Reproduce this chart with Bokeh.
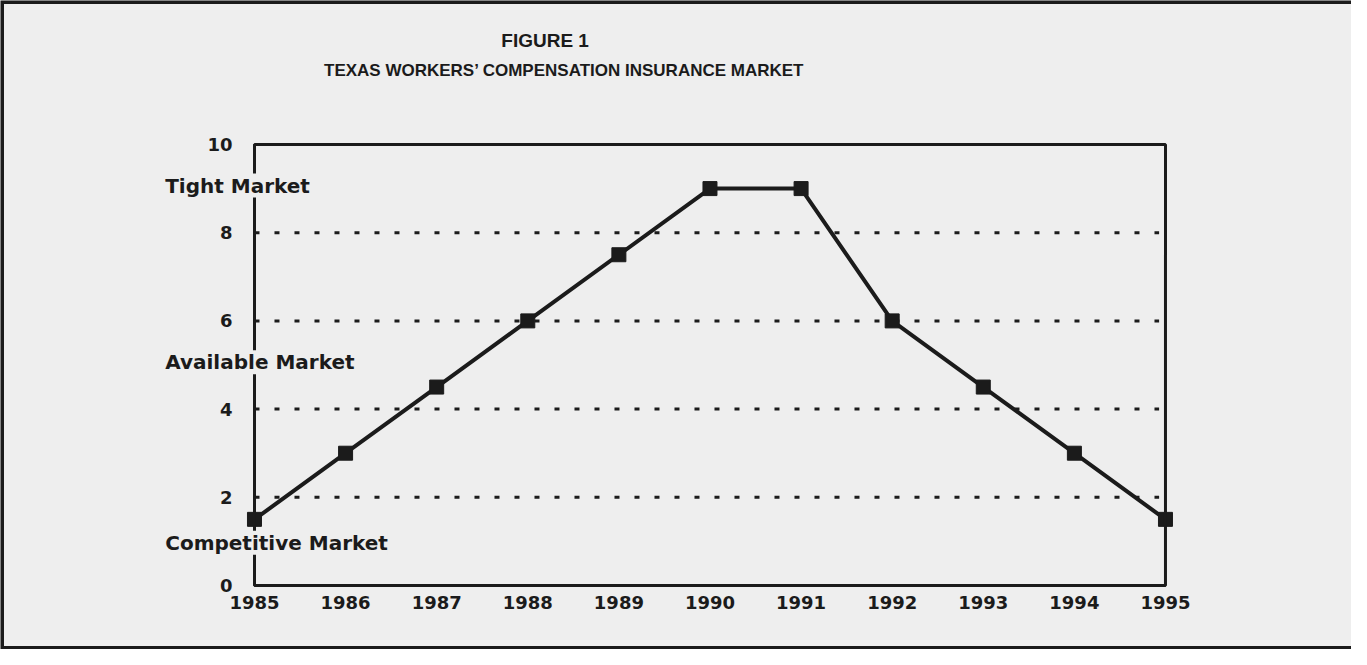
from bokeh.plotting import figure
from bokeh.models import Range1d, Label, FixedTicker, BoxAnnotation, LinearAxis
from bokeh.embed import file_html
from bokeh.resources import INLINE

years = [1985, 1986, 1987, 1988, 1989, 1990, 1991, 1992, 1993, 1994, 1995]
market_index = [1.5, 3.0, 4.5, 6.0, 7.5, 9.0, 9.0, 6.0, 4.5, 3.0, 1.5]
y_ticks = [0, 2, 4, 6, 8, 10]
dotted_levels = [2, 4, 6, 8]
market_labels = ["Tight Market", "Available Market", "Competitive Market"]
market_label_y = [9.07, 5.06, 0.97]
title_lines = ["FIGURE 1", "TEXAS WORKERS\u2019 COMPENSATION INSURANCE MARKET"]

BG = "#eeeeee"
INK = "#1b1b1b"
FONT = "DejaVu Sans"
TFONT = "Liberation Sans"

x0, x1 = years[0], years[-1]
y0, y1 = y_ticks[0], y_ticks[-1]

xr = Range1d(1982.212, 1997.042)
p = figure(width=1351, height=649, output_backend="svg", toolbar_location=None,
           x_range=xr, y_range=Range1d(-1.451, 13.265),
           x_axis_location=None, y_axis_location=None,
           min_border=0)
p.background_fill_color = BG
p.border_fill_color = BG
p.outline_line_color = None
p.xgrid.visible = False
p.ygrid.visible = False

xaxis = LinearAxis(fixed_location=y0, bounds=(x0, x1),
                   ticker=FixedTicker(ticks=years), major_label_standoff=10)
yaxis = LinearAxis(fixed_location=x0, bounds=(y0, y1),
                   ticker=FixedTicker(ticks=y_ticks), major_label_standoff=22)
for ax in (xaxis, yaxis):
    ax.axis_line_color = INK
    ax.axis_line_width = 3
    ax.major_tick_line_color = None
    ax.minor_tick_line_color = None
    ax.major_tick_in = 0
    ax.major_tick_out = 0
    ax.major_label_text_font = FONT
    ax.major_label_text_font_style = "bold"
    ax.major_label_text_font_size = "18px"
    ax.major_label_text_color = INK
p.add_layout(xaxis, "below")
p.add_layout(yaxis, "left")

# outer border of the scanned panel (left, top, bottom sides visible)
p.add_layout(BoxAnnotation(right=xr.end + 1, fill_alpha=0, line_color=INK,
                           line_alpha=1.0, line_width=7))
# chart frame (top and right sides; left/bottom drawn by axes)
p.add_layout(BoxAnnotation(left=x0, right=x1, bottom=y0, top=y1,
                           fill_alpha=0, line_color=INK, line_alpha=1.0,
                           line_width=3))

p.segment(x0=[x0] * len(dotted_levels), x1=[x1 - 0.07] * len(dotted_levels),
          y0=dotted_levels, y1=dotted_levels,
          line_color=INK, line_width=3, line_dash="5 15")

p.line(years, market_index, line_color=INK, line_width=4)
p.scatter(years, market_index, marker="square", size=14,
          fill_color=INK, line_color=INK)

for txt, yv in zip(market_labels, market_label_y):
    p.add_layout(Label(x=1984.02, y=yv, text=txt, text_font=FONT,
                       text_font_style="bold", text_font_size="20px",
                       text_color=INK, text_baseline="middle",
                       background_fill_color=BG, background_fill_alpha=1.0))

p.add_layout(Label(x=1988.19, y=12.36, text=title_lines[0],
                   text_font=TFONT, text_font_style="bold",
                   text_font_size="19px", text_color=INK,
                   text_align="center", text_baseline="middle"))
p.add_layout(Label(x=1988.40, y=11.68, text=title_lines[1],
                   text_font=TFONT, text_font_style="bold",
                   text_font_size="17px", text_color=INK,
                   text_align="center", text_baseline="middle"))

open("out.html", "w").write(file_html(p, INLINE))
